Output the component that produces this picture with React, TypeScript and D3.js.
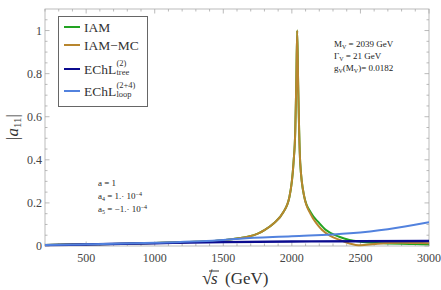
import * as React from 'react'
import { useEffect, useRef } from 'react'
import * as d3 from 'd3'

// sqrt(s) in GeV and |a11|
const iamS = [200, 500, 800, 1000, 1300, 1500, 1622, 1678, 1760, 1800, 1871, 1935, 1983, 2012, 2025, 2032, 2039, 2046, 2053, 2061, 2090, 2139, 2199, 2249, 2345, 2420, 2500, 2600, 2700, 2800, 2900, 3000]
const iamV = [0.005, 0.008, 0.011, 0.014, 0.02, 0.027, 0.037, 0.043, 0.06, 0.074, 0.107, 0.154, 0.23, 0.386, 0.54, 0.75, 1.0, 0.75, 0.54, 0.386, 0.23, 0.154, 0.107, 0.074, 0.043, 0.028, 0.02, 0.015, 0.012, 0.01, 0.009, 0.008]

const mcS = [200, 500, 800, 1000, 1300, 1500, 1622, 1678, 1760, 1800, 1871, 1935, 1983, 2012, 2025, 2032, 2039, 2046, 2053, 2061, 2090, 2135, 2185, 2221, 2280, 2350, 2420, 2500, 2600, 2700, 2800, 2900, 3000]
const mcV = [0.005, 0.008, 0.011, 0.014, 0.02, 0.027, 0.037, 0.043, 0.06, 0.074, 0.107, 0.154, 0.23, 0.386, 0.54, 0.75, 1.0, 0.75, 0.54, 0.386, 0.23, 0.15, 0.1, 0.074, 0.047, 0.028, 0.012, 0.003, 0.009, 0.014, 0.015, 0.014, 0.013]

const treeS = [200, 500, 1000, 1500, 2000, 2500, 3000]
const treeV = [0.004, 0.007, 0.013, 0.018, 0.021, 0.022, 0.023]

const loopS = [200, 500, 1000, 1500, 1622, 2000, 2424, 2700, 3000]
const loopV = [0.005, 0.008, 0.015, 0.028, 0.034, 0.045, 0.059, 0.078, 0.11]

const xTicks = [500, 1000, 1500, 2000, 2500, 3000]
const yTicks = [0, 0.2, 0.4, 0.6, 0.8, 1]

const App = () => {
    const chartRef = useRef(null)

    useEffect(() => {
        const svg = d3.select(chartRef.current)
        svg.selectAll('*').remove()

        const left = 45, right = 429, top = 9, bottom = 246
        const x = d3.scaleLinear().domain([200, 3000]).range([left, right])
        const y = d3.scaleLinear().domain([0, 1.1]).range([bottom, top])
        const frameColor = '#aaaaaa'
        const font = "'Liberation Serif', 'Times New Roman', serif"

        // frame
        svg.append('rect')
            .attr('x', left).attr('y', top)
            .attr('width', right - left).attr('height', bottom - top)
            .attr('fill', 'none').attr('stroke', frameColor).attr('stroke-width', 0.8)

        const minorX = d3.range(200, 3001, 100)
        const minorY = d3.range(0, 1.1, 0.05)

        const tickG = svg.append('g').attr('stroke', frameColor).attr('stroke-width', 0.8)
        minorX.forEach(v => {
            const len = v % 500 === 0 ? 4.5 : 2.5
            tickG.append('line').attr('x1', x(v)).attr('x2', x(v)).attr('y1', bottom).attr('y2', bottom - len)
            tickG.append('line').attr('x1', x(v)).attr('x2', x(v)).attr('y1', top).attr('y2', top + len)
        })
        minorY.forEach((v, i) => {
            const len = i % 4 === 0 ? 4.5 : 2.5
            tickG.append('line').attr('y1', y(v)).attr('y2', y(v)).attr('x1', left).attr('x2', left + len)
            tickG.append('line').attr('y1', y(v)).attr('y2', y(v)).attr('x1', right).attr('x2', right - len)
        })

        // tick labels
        svg.append('g').selectAll('text').data(xTicks).enter().append('text')
            .attr('x', d => x(d)).attr('y', 262)
            .attr('text-anchor', 'middle')
            .style('font-family', font).style('font-size', '12px').attr('fill', '#444')
            .text(d => d)
        svg.append('g').selectAll('text').data(yTicks).enter().append('text')
            .attr('x', 42).attr('y', d => y(d) + 4)
            .attr('text-anchor', 'end')
            .style('font-family', font).style('font-size', '12px').attr('fill', '#444')
            .text(d => d === 0 ? '0' : d3.format('~g')(d))

        // curves
        const line = d3.line<[number, number]>()
            .x(d => x(d[0])).y(d => y(d[1]))
            .curve(d3.curveMonotoneX)
        const series = [
            { s: iamS, v: iamV, color: '#22a322', w: 2 },
            { s: mcS, v: mcV, color: '#b8862e', w: 2 },
            { s: treeS, v: treeV, color: '#0b0b8f', w: 2.4 },
            { s: loopS, v: loopV, color: '#5282de', w: 2 },
        ]
        const clip = svg.append('clipPath').attr('id', 'plotclip')
        clip.append('rect').attr('x', left).attr('y', top).attr('width', right - left).attr('height', bottom - top + 2)
        const curves = svg.append('g').attr('clip-path', 'url(#plotclip)')
        series.forEach(sr => {
            curves.append('path')
                .datum(sr.s.map((s, i) => [s, sr.v[i]] as [number, number]))
                .attr('d', line)
                .attr('fill', 'none')
                .attr('stroke', sr.color)
                .attr('stroke-width', sr.w)
                .attr('stroke-linejoin', 'round')
        })

        // legend
        const lg = svg.append('g')
        lg.append('rect').attr('x', 58.5).attr('y', 16.5).attr('width', 89).attr('height', 90)
            .attr('fill', 'white').attr('stroke', '#666').attr('stroke-width', 1)
        const legendRows = [
            { color: '#22a322', y: 27, main: 'IAM', sup: '', sub: '' },
            { color: '#b8862e', y: 45, main: 'IAM\u2212MC', sup: '', sub: '' },
            { color: '#0b0b8f', y: 69, main: 'EChL', sup: '(2)', sub: 'tree' },
            { color: '#5282de', y: 91, main: 'EChL', sup: '(2+4)', sub: 'loop' },
        ]
        legendRows.forEach(r => {
            lg.append('line').attr('x1', 64).attr('x2', 80).attr('y1', r.y).attr('y2', r.y)
                .attr('stroke', r.color).attr('stroke-width', 2)
            lg.append('text').attr('x', 84).attr('y', r.y + 5)
                .style('font-family', font).style('font-size', '13.5px').attr('fill', '#333')
                .text(r.main)
            if (r.sup) {
                lg.append('text').attr('x', 116.5).attr('y', r.y - 3.5)
                    .style('font-family', font).style('font-size', '8.5px').attr('fill', '#333')
                    .text(r.sup)
                lg.append('text').attr('x', 116.5).attr('y', r.y + 6)
                    .style('font-family', font).style('font-size', '8.5px').attr('fill', '#333')
                    .text(r.sub)
            }
        })

        // annotations
        const small = (xp: number, yp: number) => svg.append('text').attr('x', xp).attr('y', yp)
            .style('font-family', font).style('font-size', '9px').attr('fill', '#222')
        let t = small(334, 47)
        t.append('tspan').text('M')
        t.append('tspan').attr('dy', 2).style('font-size', '6px').text('V')
        t.append('tspan').attr('dy', -2).text(' = 2039 GeV')
        t = small(334, 59)
        t.append('tspan').text('\u0393')
        t.append('tspan').attr('dy', 2).style('font-size', '6px').text('V')
        t.append('tspan').attr('dy', -2).text(' = 21 GeV')
        t = small(334, 71)
        t.append('tspan').text('g')
        t.append('tspan').attr('dy', 2).style('font-size', '6px').text('V')
        t.append('tspan').attr('dy', -2).text('(M')
        t.append('tspan').attr('dy', 2).style('font-size', '6px').text('V')
        t.append('tspan').attr('dy', -2).text(')= 0.0182')

        t = small(98, 186)
        t.text('a = 1')
        t = small(98, 199)
        t.append('tspan').text('a')
        t.append('tspan').attr('dy', 2).style('font-size', '6px').text('4')
        t.append('tspan').attr('dy', -2).text(' = 1.\u00b7 10')
        t.append('tspan').attr('dy', -3).style('font-size', '6px').text('\u22124')
        t = small(98, 212)
        t.append('tspan').text('a')
        t.append('tspan').attr('dy', 2).style('font-size', '6px').text('5')
        t.append('tspan').attr('dy', -2).text(' = \u22121.\u00b7 10')
        t.append('tspan').attr('dy', -3).style('font-size', '6px').text('\u22124')

        // axis titles
        const yl = svg.append('text')
            .attr('transform', 'translate(18, 127) rotate(-90)')
            .attr('text-anchor', 'middle')
            .style('font-family', font).style('font-size', '17px').attr('fill', '#333')
        yl.append('tspan').text('|')
        yl.append('tspan').style('font-style', 'italic').text('a')
        yl.append('tspan').attr('dy', 3).style('font-size', '11px').text('11')
        yl.append('tspan').attr('dy', -3).text('|')

        const xl = svg.append('text').attr('y', 284)
            .style('font-family', font).style('font-size', '17px').attr('fill', '#333')
        xl.append('tspan').attr('x', 202).style('font-size', '19px').text('\u221a')
        xl.append('tspan').attr('x', 211).style('font-style', 'italic').text('s')
        xl.append('tspan').attr('x', 225).text('(GeV)')
        // overline of the radical
        svg.append('line').attr('x1', 209).attr('x2', 219).attr('y1', 271).attr('y2', 271)
            .attr('stroke', '#333').attr('stroke-width', 1)
    }, [])

    return (
        <svg ref={chartRef} width={441} height={290}
            style={{ position: 'absolute', left: 0, top: 0, background: 'white' }}></svg>
    )
}

export default App
